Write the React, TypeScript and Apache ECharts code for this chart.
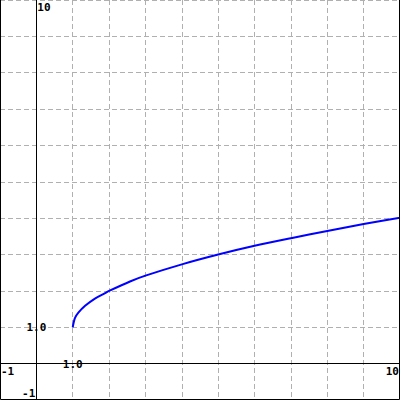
import React, { useEffect, useRef } from "react";
import * as echarts from "echarts";

const xValues = [1, 1.06, 1.155, 1.34, 1.61, 1.89, 2, 2.575, 3, 4, 5, 6, 7, 8, 9, 10];
const yValues = [1.0, 1.25, 1.4, 1.59, 1.79, 1.94, 2.0, 2.26, 2.42, 2.73, 3.0, 3.24, 3.45, 3.65, 3.84, 4.01];
const axisMin = -1;
const axisMax = 10;
const tickLabels = { xOne: "1.0", yOne: "1.0", min: "-1", max: "10" };

export default function App() {
  const ref = useRef<HTMLDivElement>(null);
  useEffect(() => {
    if (!ref.current) return;
    const chart = echarts.init(ref.current, undefined, { renderer: "svg" });
    const data = xValues.map((x, i) => [x, yValues[i]]);
    const axisCommon = {
      type: "value" as const,
      min: axisMin,
      max: axisMax,
      interval: 1,
      axisLine: { onZero: true, lineStyle: { color: "#000", width: 1 } },
      axisTick: { show: false },
      axisLabel: { show: false },
      splitLine: { show: true, lineStyle: { color: "#b0b0b0", width: 1, type: [5, 3] } },
    };
    chart.setOption({
      animation: false,
      backgroundColor: "#fff",
      grid: { left: 0, right: 0, top: 0, bottom: 0, containLabel: false },
      xAxis: axisCommon,
      yAxis: axisCommon,
      series: [
        {
          type: "line",
          data,
          showSymbol: false,
          smooth: 0.3,
          lineStyle: { color: "#0000ff", width: 2 },
          z: 5,
        },
      ],
    });
    const px = (p: number[]) => chart.convertToPixel({ gridIndex: 0 }, p) as number[];
    const font = { fontFamily: "DejaVu Sans Mono", fontWeight: "bold" as const, fontSize: 11, fill: "#000" };
    const pTop = px([0, axisMax]);
    const pY1 = px([0, 1]);
    const pX1 = px([1, 0]);
    const pXMin = px([axisMin, 0]);
    const pYMin = px([0, axisMin]);
    const pXMax = px([axisMax, 0]);
    chart.setOption({
      graphic: [
        { type: "rect", shape: { x: 0.5, y: -2, width: 399, height: 401.5 }, style: { fill: "none", stroke: "#000", lineWidth: 1 }, z: 10 },
        { type: "text", x: pTop[0] + 1, y: pTop[1] + 2, style: { ...font, text: tickLabels.max, align: "left", verticalAlign: "top" }, z: 11 },
        { type: "text", x: pY1[0], y: pY1[1], style: { ...font, text: tickLabels.yOne, align: "center", verticalAlign: "middle" }, z: 11 },
        { type: "text", x: pX1[0], y: pX1[1] + 1, style: { ...font, text: tickLabels.xOne, align: "center", verticalAlign: "middle" }, z: 11 },
        { type: "text", x: pXMin[0] + 1, y: pXMin[1] + 2, style: { ...font, text: tickLabels.min, align: "left", verticalAlign: "top" }, z: 11 },
        { type: "text", x: pYMin[0] - 1, y: pYMin[1] - 1, style: { ...font, text: tickLabels.min, align: "right", verticalAlign: "bottom" }, z: 11 },
        { type: "text", x: pXMax[0] - 1, y: pXMax[1] + 2, style: { ...font, text: tickLabels.max, align: "right", verticalAlign: "top" }, z: 11 },
      ],
    });
    return () => chart.dispose();
  }, []);
  return (
    <div
      ref={ref}
      style={{ position: "absolute", left: 0, top: 0, width: 400, height: 400, background: "#fff" }}
    />
  );
}
